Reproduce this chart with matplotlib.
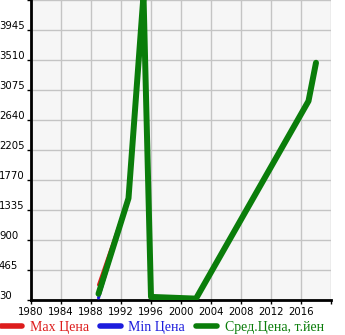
import matplotlib
matplotlib.use("Agg")
import matplotlib.pyplot as plt
from matplotlib.transforms import ScaledTranslation

years_max = [1989, 1993, 1995, 1996, 2002, 2017, 2018]
max_price = [250, 1505, 4450, 75, 50, 2915, 3470]
years_min = [1989, 1993, 1995, 1996, 2002, 2017, 2018]
min_price = [60, 1505, 4450, 75, 50, 2915, 3470]
years_avg = [1989, 1993, 1995, 1996, 2002, 2017, 2018]
avg_price = [120, 1505, 4450, 75, 50, 2915, 3470]

xticks = [1980, 1984, 1988, 1992, 1996, 2000, 2004, 2008, 2012, 2016]
yticks = [30, 465, 900, 1335, 1770, 2205, 2640, 3075, 3510, 3945]
labels = ["Max Цена", "Min Цена", "Сред.Цена, т.йен"]
colors = ["#dd1c1c", "#1c1cdd", "#0a7d0a"]

fig = plt.figure(figsize=(3.45, 3.35), dpi=100)
ax = fig.add_axes([31/345, 35/335, 300/345, 300/335])
ax.set_facecolor("#f6f6f6")

ax.plot(years_max, max_price, color=colors[0], lw=2.2, solid_capstyle="round", label=labels[0], zorder=3)
ax.plot(years_min, min_price, color=colors[1], lw=2.2, solid_capstyle="round", label=labels[1], zorder=4)
ax.plot(years_avg, avg_price, color=colors[2], lw=4.3, solid_capstyle="round", label=labels[2], zorder=5)

ax.set_xlim(1980, 2020)
ax.set_ylim(30, 4380)
ax.set_xticks(xticks + [2020])
ax.set_xticklabels([str(x) for x in xticks] + [""])
ax.set_yticks(yticks + [4380])
ax.set_yticklabels([str(y) for y in yticks] + [""])
ax.grid(True, color="#c4c4c4", lw=1.0)
ax.set_axisbelow(True)
for s in ["top", "right"]:
    ax.spines[s].set_visible(False)
for s in ["left", "bottom"]:
    ax.spines[s].set_linewidth(2)
    ax.spines[s].set_color("black")
ax.tick_params(axis="both", length=3, width=1, labelsize=7.3, colors="black")
ax.tick_params(axis="x", pad=2)
ax.tick_params(axis="y", pad=20)
for lab in ax.get_yticklabels():
    lab.set_horizontalalignment("left")
    lab.set_verticalalignment("baseline")
    lab.set_transform(lab.get_transform() + ScaledTranslation(0, 1/100, fig.dpi_scale_trans))

leg = fig.legend(loc="lower left", bbox_to_anchor=(-0.005, -0.005), ncol=3, frameon=False,
                 prop={"family": "Liberation Serif", "size": 10}, handlelength=1.5,
                 handletextpad=0.55, columnspacing=0.8, borderpad=0.2, borderaxespad=0)
for h in leg.legend_handles:
    h.set_linewidth(4.0)
    h.set_solid_capstyle("round")
for t, c in zip(leg.get_texts(), colors):
    t.set_color(c)

fig.savefig("out.png", dpi=100)
